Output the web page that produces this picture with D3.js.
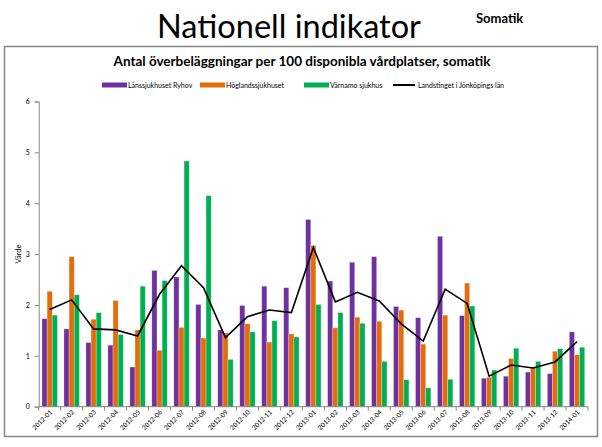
<!DOCTYPE html>
<html>
<head>
<meta charset="utf-8">
<script src="https://cdn.jsdelivr.net/npm/d3@7"></script>
<style>
  body { margin: 0; background: #fff; }
  svg { display: block; font-family: Lato, "Open Sans", sans-serif; }
</style>
</head>
<body>
<script>
// data
var months = ["2012-01","2012-02","2012-03","2012-04","2012-05","2012-06","2012-07","2012-08","2012-09","2012-10","2012-11","2012-12",
              "2013-01","2013-02","2013-03","2013-04","2013-05","2013-06","2013-07","2013-08","2013-09","2013-10","2013-11","2013-12","2014-01"];
var ryhov    = [1.73,1.53,1.26,1.21,0.78,2.68,2.55,2.01,1.51,1.99,2.37,2.34,3.68,2.47,2.84,2.95,1.97,1.75,3.35,1.79,0.56,0.60,0.68,0.65,1.47];
var hoglands = [2.27,2.95,1.72,2.09,1.51,1.11,1.56,1.35,1.45,1.63,1.27,1.43,3.17,1.55,1.76,1.68,1.90,1.23,1.80,2.43,0.58,0.95,0.78,1.09,1.02];
var varnamo  = [1.80,2.20,1.85,1.42,2.37,2.48,4.83,4.15,0.93,1.47,1.69,1.37,2.01,1.85,1.64,0.89,0.53,0.37,0.54,1.98,0.72,1.15,0.89,1.14,1.17];
var lanet    = [1.91,2.10,1.53,1.51,1.39,2.21,2.77,2.34,1.36,1.77,1.90,1.85,3.13,2.06,2.25,2.08,1.63,1.29,2.31,2.03,0.60,0.82,0.76,0.88,1.28];
var yTicks = [0,1,2,3,4,5,6];
var seriesNames = ["Länssjukhuset Ryhov","Höglandssjukhuset","Värnamo sjukhus","Landstinget i Jönköpings län"];
var colors = ["#7030A0","#E46C0A","#00B050","#000000"];

var W = 602, H = 447;
var svg = d3.select("body").append("svg").attr("width", W).attr("height", H);

// page heading
svg.append("text").attr("x", 289).attr("y", 38).attr("text-anchor", "middle")
    .attr("font-size", 32.5).attr("fill", "#000").text("Nationell indikator");
svg.append("text").attr("x", 476).attr("y", 23)
    .attr("font-size", 13).attr("font-weight", "bold").attr("fill", "#000").text("Somatik");

// chart frame
svg.append("rect").attr("x", 4.5).attr("y", 46.5).attr("width", 593).attr("height", 390)
    .attr("fill", "#fff").attr("stroke", "#868686").attr("stroke-width", 1.5);

svg.append("text").attr("x", 302).attr("y", 66).attr("text-anchor", "middle")
    .attr("font-size", 13.5).attr("font-weight", "bold").attr("fill", "#000")
    .text("Antal överbeläggningar per 100 disponibla vårdplatser, somatik");

// legend
var legX = [102, 200, 304, 393];
var leg = svg.append("g").attr("font-size", 7).attr("fill", "#000");
seriesNames.forEach((n, i) => {
    var g = leg.append("g").attr("transform", `translate(${legX[i]},85)`);
    if (i < 3) g.append("rect").attr("x", 0).attr("y", -2.5).attr("width", 25).attr("height", 5).attr("fill", colors[i]);
    else g.append("line").attr("x1", 0).attr("x2", 22).attr("y1", 0).attr("y2", 0).attr("stroke", "#000").attr("stroke-width", 2);
    g.append("text").attr("x", i < 3 ? 26 : 25).attr("y", 2.5).text(n);
});

var pL = 38.7, pR = 588, pT = 101.5, pB = 406.7;

var x = d3.scaleBand().domain(months).range([pL, pR]).paddingInner(0.3).paddingOuter(0.15);
var xs = d3.scaleBand().domain([0, 1, 2]).range([0, x.bandwidth()]);
var y = d3.scaleLinear().domain([0, 6]).range([pB, pT]);

var series = [ryhov, hoglands, varnamo];
series.forEach((vals, si) => {
    svg.append("g").selectAll("rect")
        .data(vals)
        .join("rect")
        .attr("x", (d, i) => x(months[i]) + xs(si))
        .attr("width", xs.bandwidth())
        .attr("y", d => y(d))
        .attr("height", d => y(0) - y(d))
        .attr("fill", colors[si])
        .attr("stroke", "rgba(255,255,255,0.45)")
        .attr("stroke-width", 0.6);
});

// line series
var line = d3.line()
    .x((d, i) => x(months[i]) + x.bandwidth() / 2)
    .y(d => y(d));
svg.append("path").datum(lanet)
    .attr("d", line).attr("fill", "none").attr("stroke", "#000").attr("stroke-width", 1.6);

// y axis
var yAxis = svg.append("g").attr("transform", `translate(${pL},0)`)
    .call(d3.axisLeft(y).tickValues(yTicks).tickFormat(d3.format("d")).tickSize(4).tickPadding(5));
yAxis.selectAll("text").attr("font-size", 7).attr("fill", "#000").attr("font-family", "Lato, sans-serif");
yAxis.selectAll("line, path").attr("stroke", "#868686");

svg.append("text").attr("transform", "translate(21,254) rotate(-90)")
    .attr("text-anchor", "middle").attr("font-size", 7.5).attr("fill", "#000").text("Värde");

// x axis with ticks between categories
var xg = svg.append("g").attr("transform", `translate(0,${pB})`);
xg.append("line").attr("x1", pL).attr("x2", pR).attr("stroke", "#868686");
xg.selectAll("line.tk").data(d3.range(months.length + 1)).join("line")
    .attr("class", "tk")
    .attr("x1", i => pL + i * (pR - pL) / months.length)
    .attr("x2", i => pL + i * (pR - pL) / months.length)
    .attr("y1", 0).attr("y2", 4).attr("stroke", "#868686");
xg.selectAll("text").data(months).join("text")
    .attr("transform", d => `translate(${x(d) + x.bandwidth() / 2 + 3},6) rotate(-45)`)
    .attr("text-anchor", "end").attr("font-size", 6.5).attr("fill", "#000")
    .text(d => d);
</script>
</body>
</html>
